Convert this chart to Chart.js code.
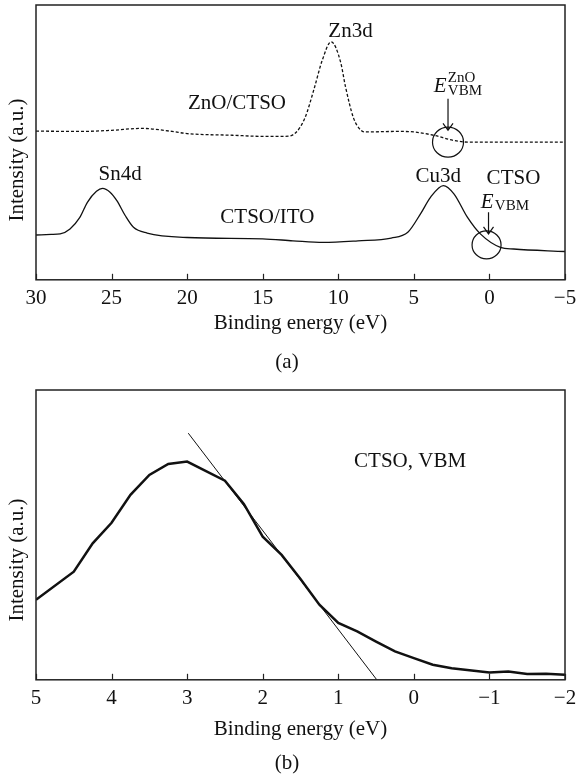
<!DOCTYPE html>
<html>
<head>
<meta charset="utf-8">
<script src="https://cdn.jsdelivr.net/npm/chart.js@4.4.1/dist/chart.umd.min.js"></script>
<style>
  body { margin: 0; background: #fff; overflow: hidden; width: 576px; height: 782px; position: relative; }
  canvas { position: absolute; left: 0; }
  #chartA { top: 0; }
  #chartB { top: 380px; }
</style>
</head>
<body>
<canvas id="chartA" width="600" height="380"></canvas>
<canvas id="chartB" width="600" height="402"></canvas>
<script>
// panel (a): XPS spectra, binding energy (eV) vs intensity (a.u.)
const xTicksA = [30, 25, 20, 15, 10, 5, 0, -5];
const znoEnergy = [30, 27, 25, 23, 21, 20, 17, 15, 13.5, 12.8, 12.2, 11.6, 11.06, 10.47, 9.85, 9.52, 9.0, 8.5, 8.2, 6, 5, 3.7, 2.35, 1.4, -5];
const znoIntensity = [54.1, 54.0, 54.4, 55.1, 54.0, 53.2, 52.6, 52.2, 52.2, 53.6, 59.0, 69.5, 79.9, 86.6, 79.3, 70.2, 59.0, 54.4, 53.8, 54.0, 53.8, 52.6, 50.7, 50.1, 50.1];
const ctsoEnergy = [30, 29, 28.4, 27.75, 27.1, 26.6, 26.0, 25.6, 25.1, 24.65, 24.1, 23.55, 22.65, 20, 15, 13, 11, 8.7, 6.5, 5.4, 4.55, 3.9, 3.05, 2.35, 1.45, 0.6, -0.73, -1.6, -5];
const ctsoIntensity = [16.3, 16.5, 16.7, 18.5, 22.7, 28.2, 32.2, 33.3, 31.9, 28.8, 23.4, 19.1, 17.0, 15.4, 14.9, 14.2, 13.6, 14.2, 15.2, 17.3, 24.1, 30.0, 34.3, 31.3, 22.7, 16.7, 11.8, 11.2, 10.3];

// panel (b): valence band edge of CTSO
const xTicksB = [5, 4, 3, 2, 1, 0, -1, -2];
const vbmEnergy = [5, 4.5, 4.25, 4, 3.75, 3.5, 3.25, 3.0, 2.5, 2.25, 2.0, 1.75, 1.5, 1.25, 1.0, 0.75, 0.5, 0.25, 0, -0.25, -0.5, -1.0, -1.25, -1.5, -1.75, -2.0];
const vbmIntensity = [27.6, 37.3, 47.1, 54.2, 63.8, 70.7, 74.5, 75.3, 68.7, 60.7, 49.4, 43.1, 34.8, 25.9, 19.6, 16.7, 13.2, 9.8, 7.5, 5.2, 4.0, 2.5, 2.9, 2.0, 2.1, 1.7];
const tangentEnergy = [2.985, 0.49];
const tangentIntensity = [85.1, 0];

const FONT = '"Liberation Serif", "DejaVu Serif", serif';
const INK = '#111';
const SIZE = 21;

function toPoints(xs, ys) {
  return xs.map((v, i) => ({ x: v, y: ys[i] }));
}
function fmtTick(v) {
  return v < 0 ? '\u2212' + Math.abs(v) : String(v);
}

// frame, inward ticks, axis titles and (a)/(b) caption
const framePlugin = {
  id: 'frame',
  afterDraw(chart, args, opts) {
    const { ctx, chartArea: a, scales: { x } } = chart;
    ctx.save();
    ctx.strokeStyle = '#222';
    ctx.lineWidth = 1.5;
    ctx.strokeRect(a.left, a.top, a.right - a.left, a.bottom - a.top);
    ctx.lineWidth = 1.2;
    x.ticks.forEach(t => {
      const px = Math.round(x.getPixelForValue(t.value)) + 0.5;
      ctx.beginPath();
      ctx.moveTo(px, a.bottom);
      ctx.lineTo(px, a.bottom - 6);
      ctx.stroke();
    });
    ctx.fillStyle = INK;
    ctx.font = SIZE + 'px ' + FONT;
    ctx.textAlign = 'center';
    ctx.textBaseline = 'middle';
    ctx.fillText('Binding energy (eV)', (a.left + a.right) / 2, a.bottom + opts.xTitleGap);
    ctx.fillText(opts.caption, 287, opts.captionY);
    ctx.translate(17, opts.yTitleY);
    ctx.rotate(-Math.PI / 2);
    ctx.fillText('Intensity (a.u.)', 0, 0);
    ctx.restore();
  }
};

function arrowDown(ctx, px, y1, y2) {
  ctx.beginPath();
  ctx.moveTo(px, y1);
  ctx.lineTo(px, y2);
  ctx.moveTo(px - 5, y2 - 7);
  ctx.lineTo(px, y2);
  ctx.lineTo(px + 5, y2 - 7);
  ctx.stroke();
}

const labelsA = {
  id: 'labelsA',
  afterDatasetsDraw(chart) {
    const { ctx, scales: { x, y } } = chart;
    const X = v => x.getPixelForValue(v), Y = v => y.getPixelForValue(v);
    ctx.save();
    ctx.fillStyle = INK;
    ctx.strokeStyle = INK;
    ctx.font = SIZE + 'px ' + FONT;
    ctx.textAlign = 'center';
    ctx.textBaseline = 'middle';
    ctx.fillText('ZnO/CTSO', X(16.7), Y(64.2));
    ctx.fillText('Sn4d', X(24.43), Y(38.3));
    ctx.fillText('CTSO/ITO', X(14.69), Y(22.7));
    ctx.fillText('Zn3d', X(9.19), Y(90.3));
    ctx.fillText('Cu3d', X(3.39), Y(37.7));
    ctx.fillText('CTSO', X(-1.59), Y(36.8));

    // E_VBM^ZnO
    ctx.textAlign = 'left';
    ctx.textBaseline = 'alphabetic';
    ctx.font = 'italic ' + SIZE + 'px ' + FONT;
    let ex = X(3.68), ey = Y(68.4);
    ctx.fillText('E', ex, ey);
    ctx.font = '15px ' + FONT;
    ctx.fillText('ZnO', ex + 14, ey - 10);
    ctx.fillText('VBM', ex + 14, ey + 3);

    // E_VBM (CTSO)
    ctx.font = 'italic ' + SIZE + 'px ' + FONT;
    ex = X(0.57); ey = Y(26.2);
    ctx.fillText('E', ex, ey);
    ctx.font = '15px ' + FONT;
    ctx.fillText('VBM', ex + 14, ey + 2);

    ctx.lineWidth = 1.2;
    arrowDown(ctx, X(2.74), Y(65.9), Y(54.4));
    arrowDown(ctx, X(0.06), Y(24.6), Y(16.7));
    ctx.beginPath();
    ctx.ellipse(X(2.74), Y(50.1), 15.5, 15, 0, 0, Math.PI * 2);
    ctx.stroke();
    ctx.beginPath();
    ctx.ellipse(X(0.19), Y(12.7), 14.5, 14, 0, 0, Math.PI * 2);
    ctx.stroke();
    ctx.restore();
  }
};

const labelsB = {
  id: 'labelsB',
  afterDatasetsDraw(chart) {
    const { ctx, scales: { x, y } } = chart;
    ctx.save();
    ctx.fillStyle = INK;
    ctx.font = SIZE + 'px ' + FONT;
    ctx.textAlign = 'center';
    ctx.textBaseline = 'middle';
    ctx.fillText('CTSO, VBM', x.getPixelForValue(0.05), y.getPixelForValue(75.3));
    ctx.restore();
  }
};

function xScale(min, max, ticks) {
  return {
    type: 'linear',
    reverse: true,
    min: min,
    max: max,
    afterBuildTicks: s => { s.ticks = ticks.map(v => ({ value: v })); },
    ticks: { font: { family: FONT, size: SIZE }, color: INK, padding: 6, callback: v => fmtTick(v), maxRotation: 0 },
    grid: { display: false, drawTicks: false },
    border: { display: false },
    title: { display: false }
  };
}

new Chart(document.getElementById('chartA'), {
  type: 'line',
  data: {
    datasets: [
      { data: toPoints(znoEnergy, znoIntensity), borderColor: INK, borderWidth: 1.3, borderDash: [3, 2], cubicInterpolationMode: 'monotone', pointRadius: 0 },
      { data: toPoints(ctsoEnergy, ctsoIntensity), borderColor: INK, borderWidth: 1.3, cubicInterpolationMode: 'monotone', pointRadius: 0 }
    ]
  },
  options: {
    responsive: false,
    animation: false,
    devicePixelRatio: 1,
    layout: { padding: { left: 36, right: 35, top: 5, bottom: 63 } },
    scales: {
      x: xScale(-5, 30, xTicksA),
      y: { display: false, min: 0, max: 100 }
    },
    plugins: {
      legend: { display: false },
      tooltip: { enabled: false },
      frame: { caption: '(a)', captionY: 362, yTitleY: 160, xTitleGap: 44 }
    }
  },
  plugins: [framePlugin, labelsA]
});

new Chart(document.getElementById('chartB'), {
  type: 'line',
  data: {
    datasets: [
      { data: toPoints(vbmEnergy, vbmIntensity), borderColor: INK, borderWidth: 2.5, tension: 0, pointRadius: 0 },
      { data: toPoints(tangentEnergy, tangentIntensity), borderColor: INK, borderWidth: 1, tension: 0, pointRadius: 0 }
    ]
  },
  options: {
    responsive: false,
    animation: false,
    devicePixelRatio: 1,
    layout: { padding: { left: 36, right: 35, top: 10, bottom: 65 } },
    scales: {
      x: xScale(-2, 5, xTicksB),
      y: { display: false, min: 0, max: 100 }
    },
    plugins: {
      legend: { display: false },
      tooltip: { enabled: false },
      frame: { caption: '(b)', captionY: 383, yTitleY: 180, xTitleGap: 50 }
    }
  },
  plugins: [framePlugin, labelsB]
});
</script>
</body>
</html>
